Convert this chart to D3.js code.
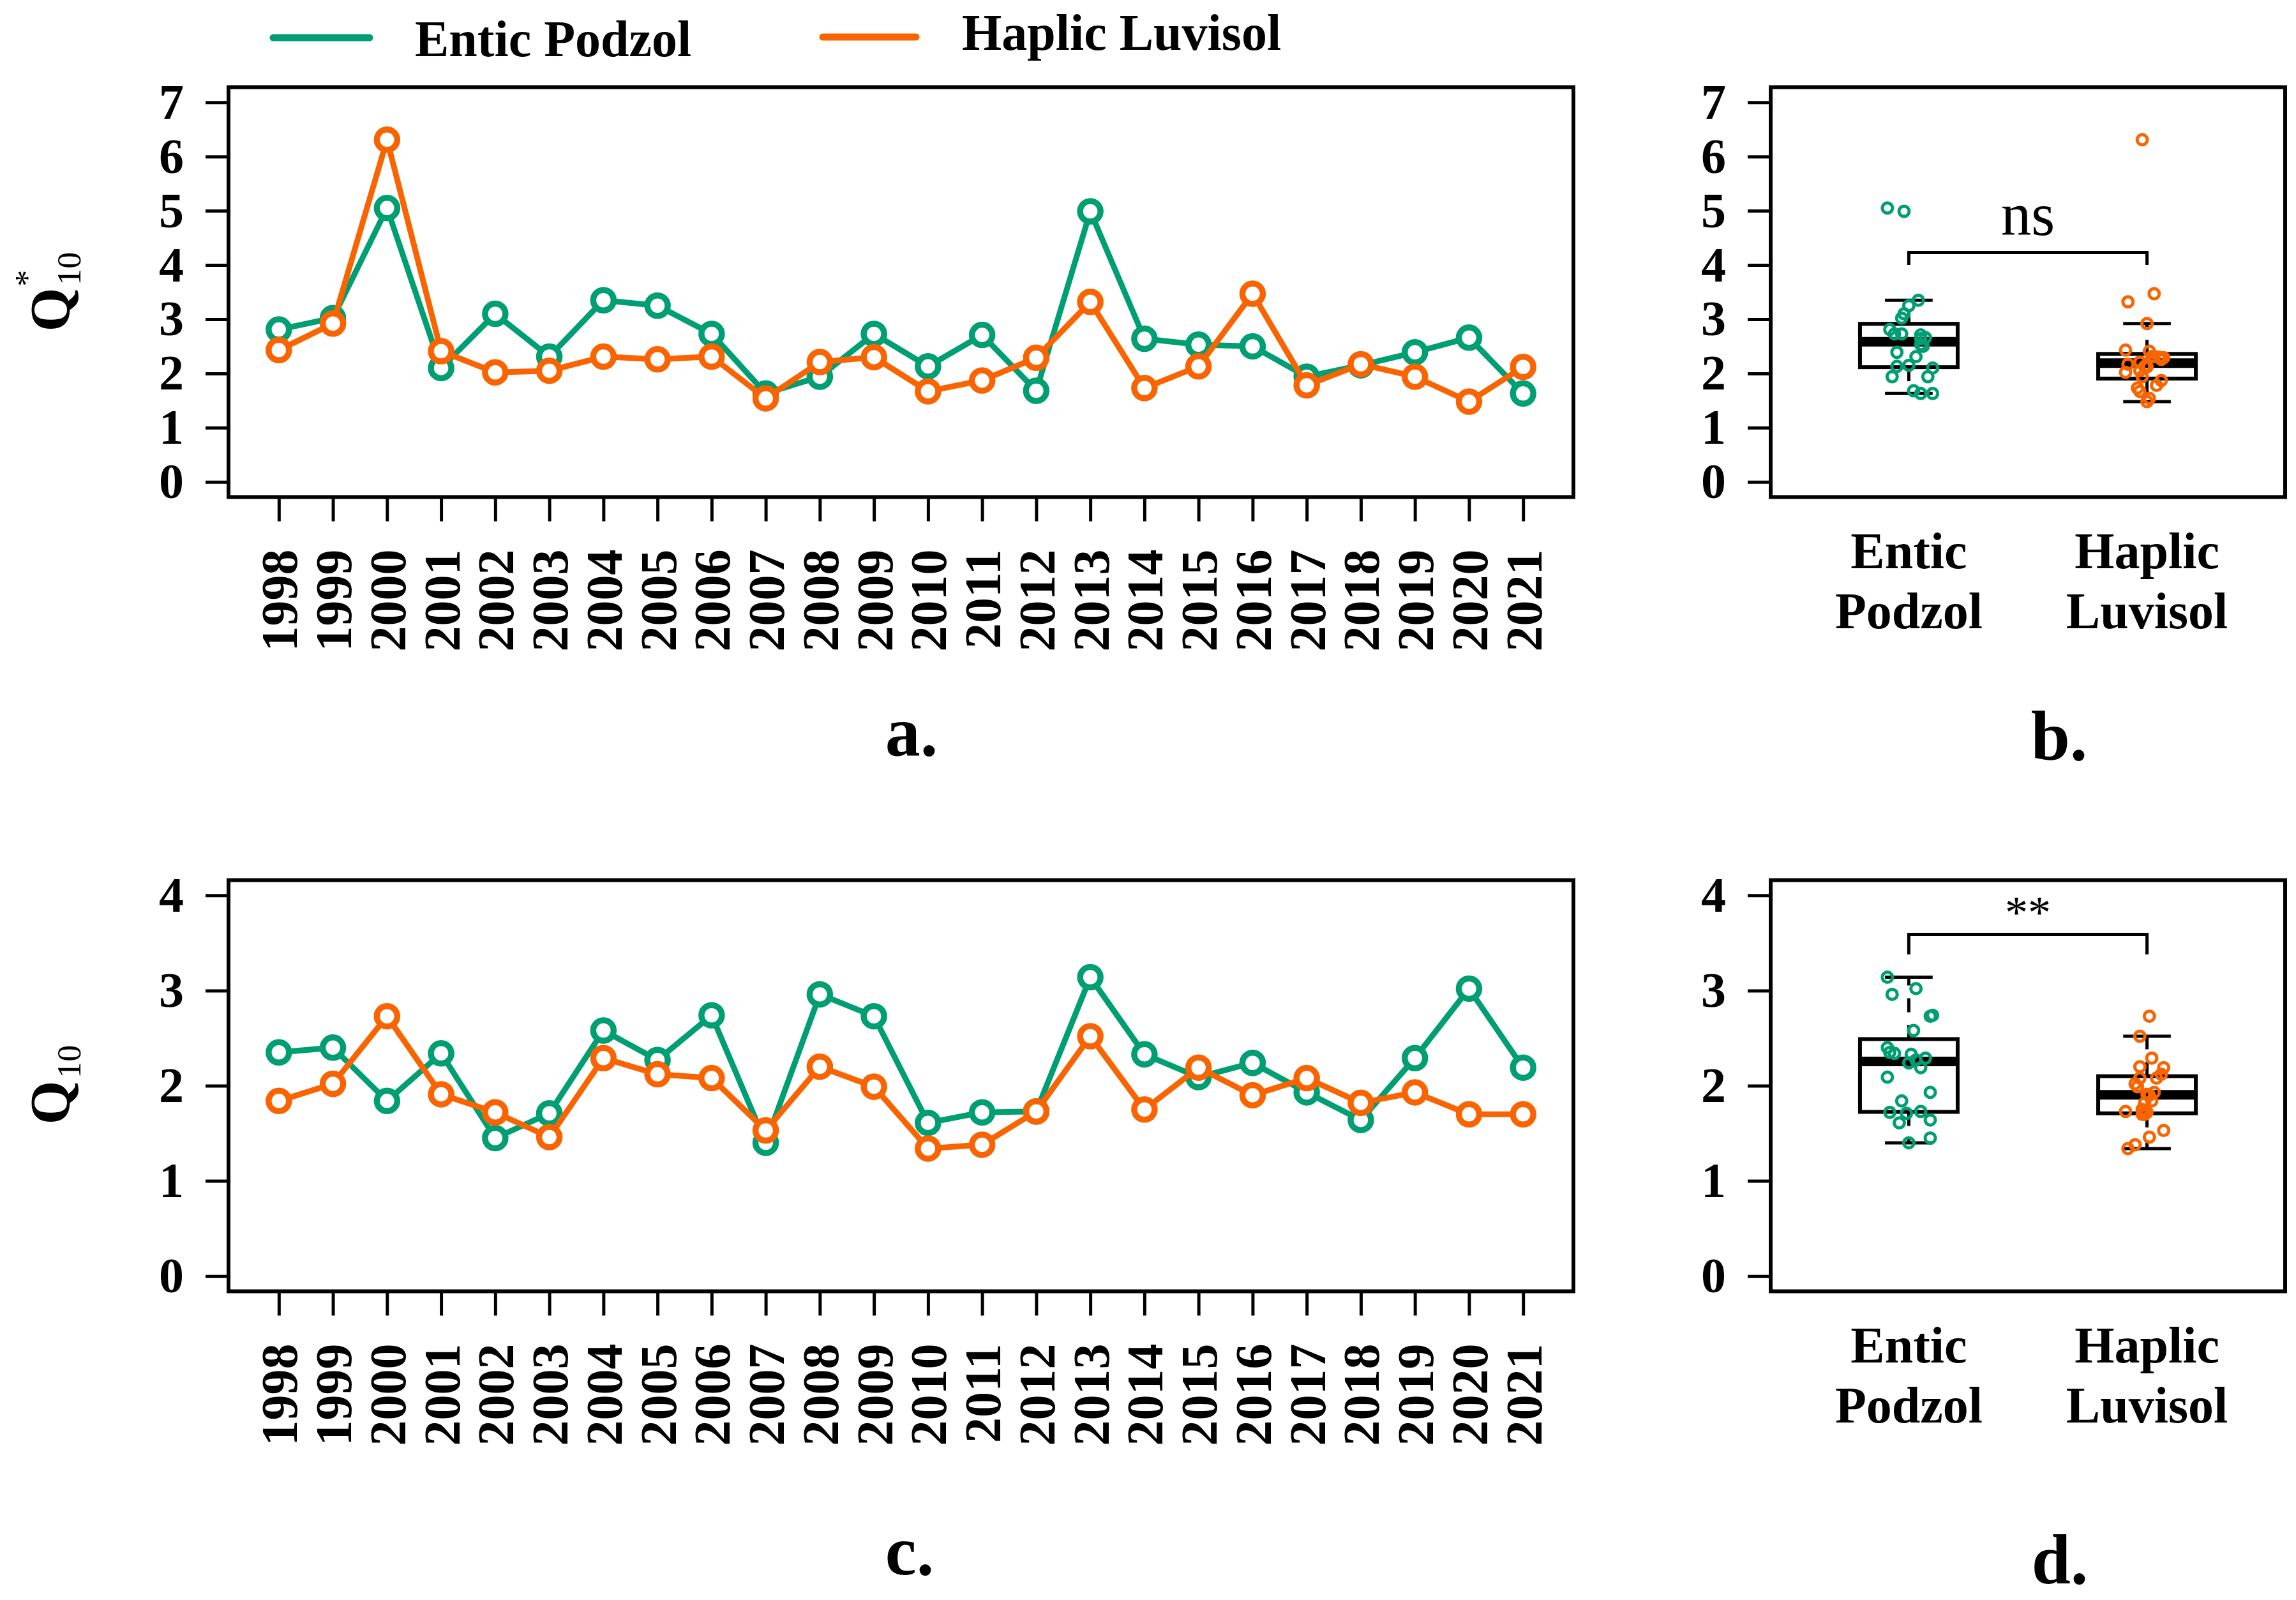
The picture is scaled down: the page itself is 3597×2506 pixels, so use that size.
<!DOCTYPE html>
<html>
<head>
<meta charset="utf-8">
<script src="https://cdn.jsdelivr.net/npm/d3@7"></script>
<style>
  body { margin: 0; background: #fff; }
  text { font-family: "Liberation Serif", "Times New Roman", serif; }
</style>
</head>
<body>
<svg id="fig" width="3597" height="2506"></svg>
<script>
// years on the x axis of panels a and c
const years = [1998, 1999, 2000, 2001, 2002, 2003, 2004, 2005, 2006, 2007, 2008, 2009,
               2010, 2011, 2012, 2013, 2014, 2015, 2016, 2017, 2018, 2019, 2020, 2021];

// Q10* (panel a / b)
const enticQ10star  = [2.81, 3.02, 5.05, 2.10, 3.10, 2.31, 3.35, 3.25, 2.73, 1.63, 1.94, 2.73,
                       2.13, 2.71, 1.68, 4.99, 2.64, 2.53, 2.50, 1.94, 2.15, 2.39, 2.66, 1.63];
const haplicQ10star = [2.43, 2.92, 6.31, 2.41, 2.02, 2.05, 2.31, 2.26, 2.31, 1.54, 2.21, 2.30,
                       1.67, 1.87, 2.29, 3.32, 1.73, 2.13, 3.47, 1.78, 2.17, 1.94, 1.48, 2.12];

// Q10 (panel c / d)
const enticQ10  = [2.35, 2.40, 1.84, 2.34, 1.45, 1.71, 2.58, 2.27, 2.74, 1.40, 2.96, 2.73,
                   1.61, 1.72, 1.73, 3.14, 2.33, 2.09, 2.24, 1.93, 1.64, 2.29, 3.02, 2.19];
const haplicQ10 = [1.84, 2.02, 2.73, 1.91, 1.72, 1.46, 2.29, 2.12, 2.08, 1.53, 2.20, 1.99,
                   1.34, 1.38, 1.73, 2.52, 1.75, 2.19, 1.90, 2.08, 1.82, 1.93, 1.70, 1.70];

// horizontal jitter of the points in the boxplots (category units)
const jitEnticB  = [-0.08, -0.03, -0.09, 0.10, -0.02, 0.03, 0.04, 0.00, -0.03, 0.05, 0.08, -0.06,
                    -0.05, 0.05, 0.02, -0.02, 0.05, 0.05, 0.06, -0.07, 0.00, -0.05, 0.07, 0.10];
const jitHaplicB = [-0.09, 0.00, -0.02, 0.01, -0.09, -0.03, 0.03, 0.06, 0.02, 0.01, -0.03, 0.05,
                    -0.03, 0.06, 0.07, -0.08, -0.04, -0.01, 0.03, 0.04, -0.08, -0.02, 0.00, 0.00];
const jitEnticD  = [-0.08, -0.09, -0.03, -0.06, 0.09, -0.01, 0.02, 0.03, 0.10, 0.00, -0.07, 0.09,
                    -0.04, -0.08, 0.05, -0.09, 0.01, -0.09, 0.00, 0.09, 0.09, 0.07, 0.03, 0.05];
const jitHaplicD = [0.02, -0.05, 0.01, 0.00, 0.00, 0.01, 0.02, 0.06, 0.04, 0.07, -0.03, -0.04,
                    -0.08, -0.05, -0.09, -0.03, -0.02, 0.07, 0.01, -0.03, -0.01, 0.03, -0.02, -0.01];

const soils = ["Entic Podzol", "Haplic Luvisol"];
const yTicksTop = [0, 1, 2, 3, 4, 5, 6, 7];
const yTicksBottom = [0, 1, 2, 3, 4];
const sigTop = "ns";
const sigBottom = "**";

const GREEN = "#009E73";
const ORANGE = "#F96400";

const svg = d3.select("#fig");
svg.append("rect").attr("width", 3597).attr("height", 2506).attr("fill", "#fff");

// frames of the four panels
const lineX = [358, 2465];
const boxX = [2774, 3580];
const topY = [778.5, 136.5];
const botY = [2022.5, 1378.5];

const x = d3.scaleLinear().domain([1997.07, 2021.93]).range(lineX);
const xb = d3.scaleLinear().domain([0.42, 2.58]).range(boxX);
const yTop = d3.scaleLinear().domain([-0.28, 7.28]).range(topY);
const yBot = d3.scaleLinear().domain([-0.16, 4.16]).range(botY);

function yAxis(g, y, ticks, x0) {
  const ax = g.append("g")
    .attr("transform", `translate(${x0},0)`)
    .call(d3.axisLeft(y).tickValues(ticks).tickSize(36).tickPadding(34).tickFormat(d3.format("d")));
  ax.select(".domain").remove();
  ax.selectAll("line").attr("stroke", "#000").attr("stroke-width", 5);
  ax.selectAll("text")
    .attr("font-size", 78).attr("font-weight", "bold").attr("fill", "#000")
    .attr("font-family", "Liberation Serif");
}

function frame(g, xr, yr) {
  g.append("rect")
    .attr("x", xr[0]).attr("y", yr[1])
    .attr("width", xr[1] - xr[0]).attr("height", yr[0] - yr[1])
    .attr("fill", "none").attr("stroke", "#000").attr("stroke-width", 6);
}

function linePanel(y, ticks, yr, entic, haplic) {
  const g = svg.append("g");
  yAxis(g, y, ticks, lineX[0]);

  const ax = g.append("g")
    .attr("transform", `translate(0,${yr[0]})`)
    .call(d3.axisBottom(x).tickValues(years).tickSize(38).tickFormat(d3.format("d")));
  ax.select(".domain").remove();
  ax.selectAll("line").attr("stroke", "#000").attr("stroke-width", 5);
  ax.selectAll("text")
    .attr("transform", "rotate(-90)")
    .attr("x", -82).attr("y", 0).attr("dy", "0.35em")
    .style("text-anchor", "end")
    .attr("font-size", 80).attr("font-weight", "bold").attr("fill", "#000")
    .attr("font-family", "Liberation Serif");

  const line = d3.line().x((d, i) => x(years[i])).y(d => y(d));
  [[entic, GREEN], [haplic, ORANGE]].forEach(([vals, col]) => {
    g.append("path").datum(vals)
      .attr("d", line).attr("fill", "none")
      .attr("stroke", col).attr("stroke-width", 9).attr("stroke-linejoin", "round");
    g.selectAll(null).data(vals).enter().append("circle")
      .attr("cx", (d, i) => x(years[i])).attr("cy", d => y(d))
      .attr("r", 16).attr("fill", "#fff")
      .attr("stroke", col).attr("stroke-width", 9.5);
  });
  frame(g, lineX, yr);
}

// Tukey five-number summary, like R's boxplot
function fivenum(vals) {
  const s = vals.slice().sort(d3.ascending);
  const n = s.length;
  const n4 = Math.floor((n + 3) / 2) / 2;
  const d = [1, n4, (n + 1) / 2, n + 1 - n4, n];
  return d.map(k => 0.5 * (s[Math.floor(k) - 1] + s[Math.ceil(k) - 1]));
}

function boxPanel(y, ticks, yr, groups, jits, sig, brTop, brDrop, sigY, sigSize) {
  const g = svg.append("g");
  yAxis(g, y, ticks, boxX[0]);
  const half = xb(0.205) - xb(0);
  const capHalf = xb(0.1) - xb(0);

  groups.forEach((vals, gi) => {
    const cx = xb(gi + 1);
    const f = fivenum(vals);
    const iqr = f[3] - f[1];
    const hiW = d3.max(vals.filter(v => v <= f[3] + 1.5 * iqr));
    const loW = d3.min(vals.filter(v => v >= f[1] - 1.5 * iqr));

    g.append("line").attr("x1", cx).attr("x2", cx).attr("y1", y(f[3])).attr("y2", y(hiW))
      .attr("stroke", "#000").attr("stroke-width", 5).attr("stroke-dasharray", "22,20");
    g.append("line").attr("x1", cx).attr("x2", cx).attr("y1", y(f[1])).attr("y2", y(loW))
      .attr("stroke", "#000").attr("stroke-width", 5).attr("stroke-dasharray", "22,20");
    [hiW, loW].forEach(v => {
      g.append("line").attr("x1", cx - capHalf).attr("x2", cx + capHalf)
        .attr("y1", y(v)).attr("y2", y(v))
        .attr("stroke", "#000").attr("stroke-width", 5);
    });
    g.append("rect")
      .attr("x", cx - half).attr("width", 2 * half)
      .attr("y", y(f[3])).attr("height", y(f[1]) - y(f[3]))
      .attr("fill", "#fff").attr("stroke", "#000").attr("stroke-width", 6);
    g.append("line").attr("x1", cx - half).attr("x2", cx + half)
      .attr("y1", y(f[2])).attr("y2", y(f[2]))
      .attr("stroke", "#000").attr("stroke-width", 15);

    const col = gi === 0 ? GREEN : ORANGE;
    g.selectAll(null).data(vals).enter().append("circle")
      .attr("cx", (d, i) => xb(gi + 1 + jits[gi][i])).attr("cy", d => y(d))
      .attr("r", 8).attr("fill", "none")
      .attr("stroke", col).attr("stroke-width", 5);

    // category labels
    const words = soils[gi].split(" ");
    words.forEach((w, wi) => {
      g.append("text").attr("x", cx).attr("y", yr[0] + 111 + wi * 94)
        .attr("text-anchor", "middle").attr("font-size", 80).attr("font-weight", "bold")
        .text(w);
    });
  });

  // significance bracket
  const x1 = xb(1), x2 = xb(2);
  g.append("path")
    .attr("d", `M${x1},${y(brDrop)}V${y(brTop)}H${x2}V${y(brDrop)}`)
    .attr("fill", "none").attr("stroke", "#000").attr("stroke-width", 5);
  g.append("text").attr("x", (x1 + x2) / 2).attr("y", y(sigY))
    .attr("text-anchor", "middle").attr("font-size", sigSize)
    .text(sig);

  frame(g, boxX, yr);
}

linePanel(yTop, yTicksTop, topY, enticQ10star, haplicQ10star);
linePanel(yBot, yTicksBottom, botY, enticQ10, haplicQ10);
boxPanel(yTop, yTicksTop, topY, [enticQ10star, haplicQ10star], [jitEnticB, jitHaplicB],
         sigTop, 4.23, 4.0, 4.55, 95);
boxPanel(yBot, yTicksBottom, botY, [enticQ10, haplicQ10], [jitEnticD, jitHaplicD],
         sigBottom, 3.59, 3.38, 3.66, 72);

// y axis titles: Q*10 and Q10
function qLabel(cy, star) {
  const g = svg.append("g").attr("transform", `translate(108,${cy}) rotate(-90)`);
  const q = g.append("text").attr("font-size", 88).attr("font-weight", "bold").text("Q");
  const qw = q.node().getComputedTextLength();
  const sub = g.append("text").attr("font-size", 52).attr("y", 18).text("10");
  const sw = sub.node().getComputedTextLength();
  const start = -(qw + sw + 4) / 2;
  q.attr("x", start);
  sub.attr("x", start + qw + 4);
  if (star) {
    g.append("text").attr("font-size", 52).attr("x", start + qw + 2).attr("y", -48).text("*");
  }
}
qLabel(457, true);
qLabel(1699, false);

// legend
const legend = [
  { name: soils[0], col: GREEN, x1: 428, x2: 579, ly: 59, tx: 650, ty: 88 },
  { name: soils[1], col: ORANGE, x1: 1289, x2: 1435, ly: 58, tx: 1507, ty: 78 }
];
legend.forEach(l => {
  svg.append("line").attr("x1", l.x1).attr("x2", l.x2).attr("y1", l.ly).attr("y2", l.ly)
    .attr("stroke", l.col).attr("stroke-width", 11).attr("stroke-linecap", "round");
  svg.append("text").attr("x", l.tx).attr("y", l.ty)
    .attr("font-size", 80).attr("font-weight", "bold").text(l.name);
});

// panel letters
[["a.", 1428, 1183], ["b.", 3226, 1190], ["c.", 1425, 2466], ["d.", 3227, 2480]].forEach(([t, px, py]) => {
  svg.append("text").attr("x", px).attr("y", py).attr("text-anchor", "middle")
    .attr("font-size", 110).attr("font-weight", "bold").text(t);
});
</script>
</body>
</html>
